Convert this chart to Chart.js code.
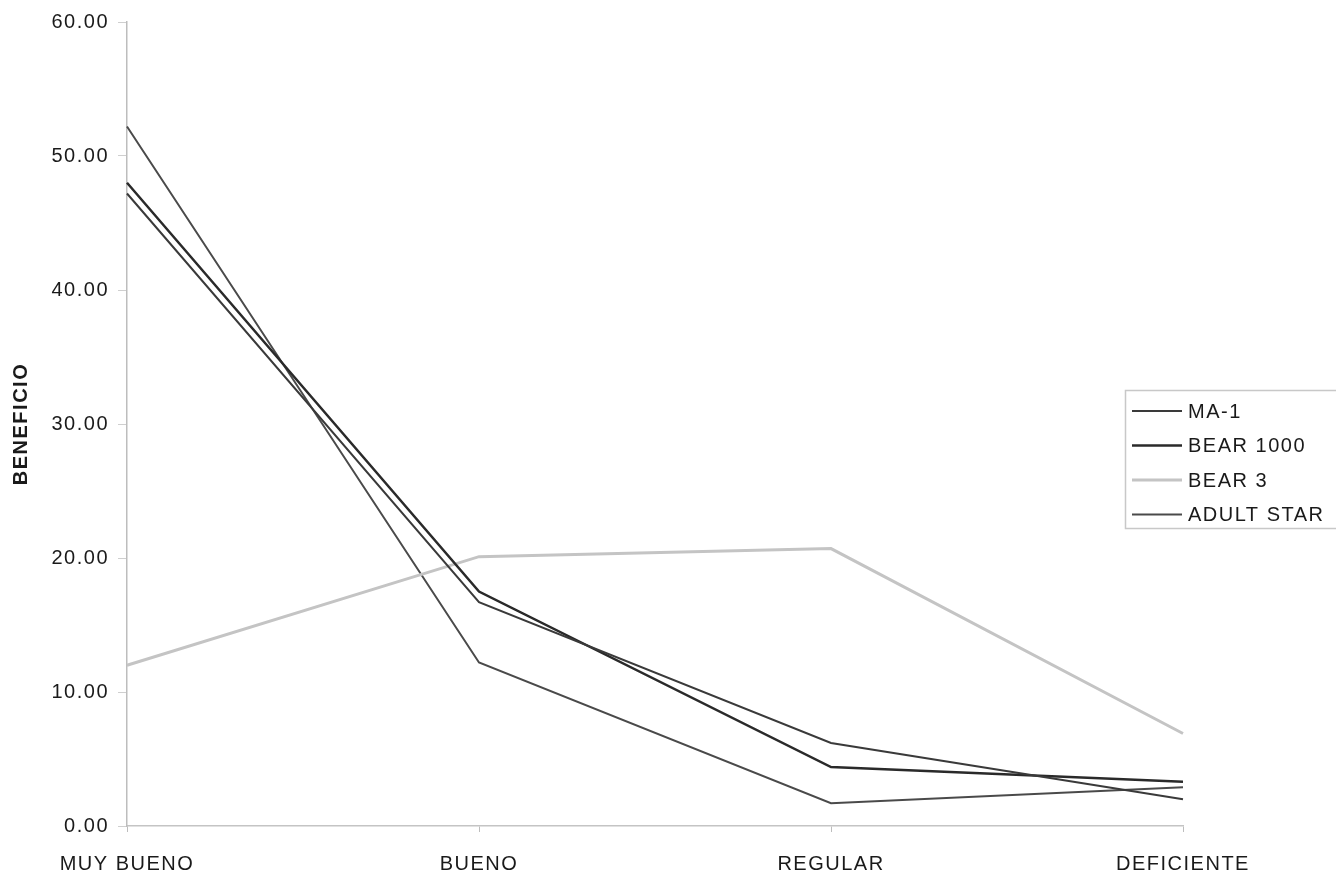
<!DOCTYPE html>
<html>
<head>
<meta charset="utf-8">
<script src="https://cdn.jsdelivr.net/npm/chart.js@4"></script>
<style>
  html, body { margin: 0; padding: 0; background: #ffffff; }
  #wrap { position: relative; width: 1336px; height: 878px; }
  canvas { display: block; }
</style>
</head>
<body>
<div id="wrap"><canvas id="c" width="1336" height="878"></canvas></div>
<script>
// Categorías de valoración
const categories = ['MUY BUENO', 'BUENO', 'REGULAR', 'DEFICIENTE'];

// Beneficio por producto
const ma1       = [47.2, 16.7, 6.2, 2.0];
const bear1000  = [48.0, 17.5, 4.4, 3.3];
const bear3     = [12.0, 20.1, 20.7, 6.9];
const adultStar = [52.2, 12.2, 1.7, 2.9];

const yTicks = [0, 10, 20, 30, 40, 50, 60];

const FONT = 'Liberation Sans, Arial, sans-serif';
const SPACING = '1.5px';

// Espaciado de letras para todo el texto del lienzo
const textSpacing = {
  id: 'textSpacing',
  beforeUpdate(chart) { chart.ctx.letterSpacing = SPACING; },
  beforeDraw(chart) { chart.ctx.letterSpacing = SPACING; }
};

// Leyenda dibujada dentro del área del gráfico, a la derecha
const boxLegend = {
  id: 'boxLegend',
  afterDraw(chart) {
    const ctx = chart.ctx;
    const x0 = 1125, y0 = 390, w = 230, h = 138;
    ctx.save();
    ctx.fillStyle = '#ffffff';
    ctx.fillRect(x0, y0, w, h);
    ctx.strokeStyle = '#c8c8c8';
    ctx.lineWidth = 1.5;
    ctx.strokeRect(x0 + 0.5, y0 + 0.5, w, h);
    ctx.font = '20px ' + FONT;
    ctx.letterSpacing = SPACING;
    ctx.textBaseline = 'middle';
    ctx.textAlign = 'left';
    chart.data.datasets.forEach((ds, i) => {
      const y = y0 + 21 + i * 34.5;
      ctx.beginPath();
      ctx.strokeStyle = ds.borderColor;
      ctx.lineWidth = ds.borderWidth;
      ctx.moveTo(x0 + 7, y);
      ctx.lineTo(x0 + 57, y);
      ctx.stroke();
      ctx.fillStyle = '#1a1a1a';
      ctx.fillText(ds.label, x0 + 63, y + 1);
    });
    ctx.restore();
  }
};

new Chart(document.getElementById('c'), {
  type: 'line',
  data: {
    labels: categories,
    datasets: [
      { label: 'MA-1', data: ma1, borderColor: '#3a3a3a', borderWidth: 2 },
      { label: 'BEAR 1000', data: bear1000, borderColor: '#2a2a2a', borderWidth: 2.5 },
      { label: 'BEAR 3', data: bear3, borderColor: '#c4c4c4', borderWidth: 3 },
      { label: 'ADULT STAR', data: adultStar, borderColor: '#4a4a4a', borderWidth: 2 }
    ]
  },
  options: {
    responsive: false,
    animation: false,
    devicePixelRatio: 1,
    layout: { padding: { left: 0, top: 22, right: 153, bottom: 0 } },
    elements: {
      point: { radius: 0, hoverRadius: 0 },
      line: { tension: 0, fill: false }
    },
    plugins: {
      legend: { display: false },
      tooltip: { enabled: false }
    },
    scales: {
      x: {
        offset: false,
        grid: { display: true, drawOnChartArea: false, tickLength: 6, color: '#bdbdbd' },
        border: { display: true, color: '#c4c4c4', width: 1.5 },
        ticks: { color: '#1a1a1a', font: { family: FONT, size: 20 }, padding: 20, maxRotation: 0, autoSkip: false },
        afterFit(scale) { scale.height = 52; }
      },
      y: {
        min: 0,
        max: 60,
        afterBuildTicks(scale) { scale.ticks = yTicks.map(v => ({ value: v })); },
        grid: { display: true, drawOnChartArea: false, tickLength: 9, color: '#cfcfcf' },
        border: { display: true, color: '#bdbdbd', width: 1.5 },
        ticks: {
          color: '#1a1a1a',
          font: { family: FONT, size: 20 },
          padding: 9,
          callback: v => Number(v).toFixed(2)
        },
        title: {
          display: true,
          text: 'BENEFICIO',
          color: '#1a1a1a',
          font: { family: FONT, size: 20, weight: 'bold' },
          padding: { top: 9, bottom: 0 }
        },
        afterFit(scale) { scale.width = 127; }
      }
    }
  },
  plugins: [textSpacing, boxLegend]
});
</script>
</body>
</html>
